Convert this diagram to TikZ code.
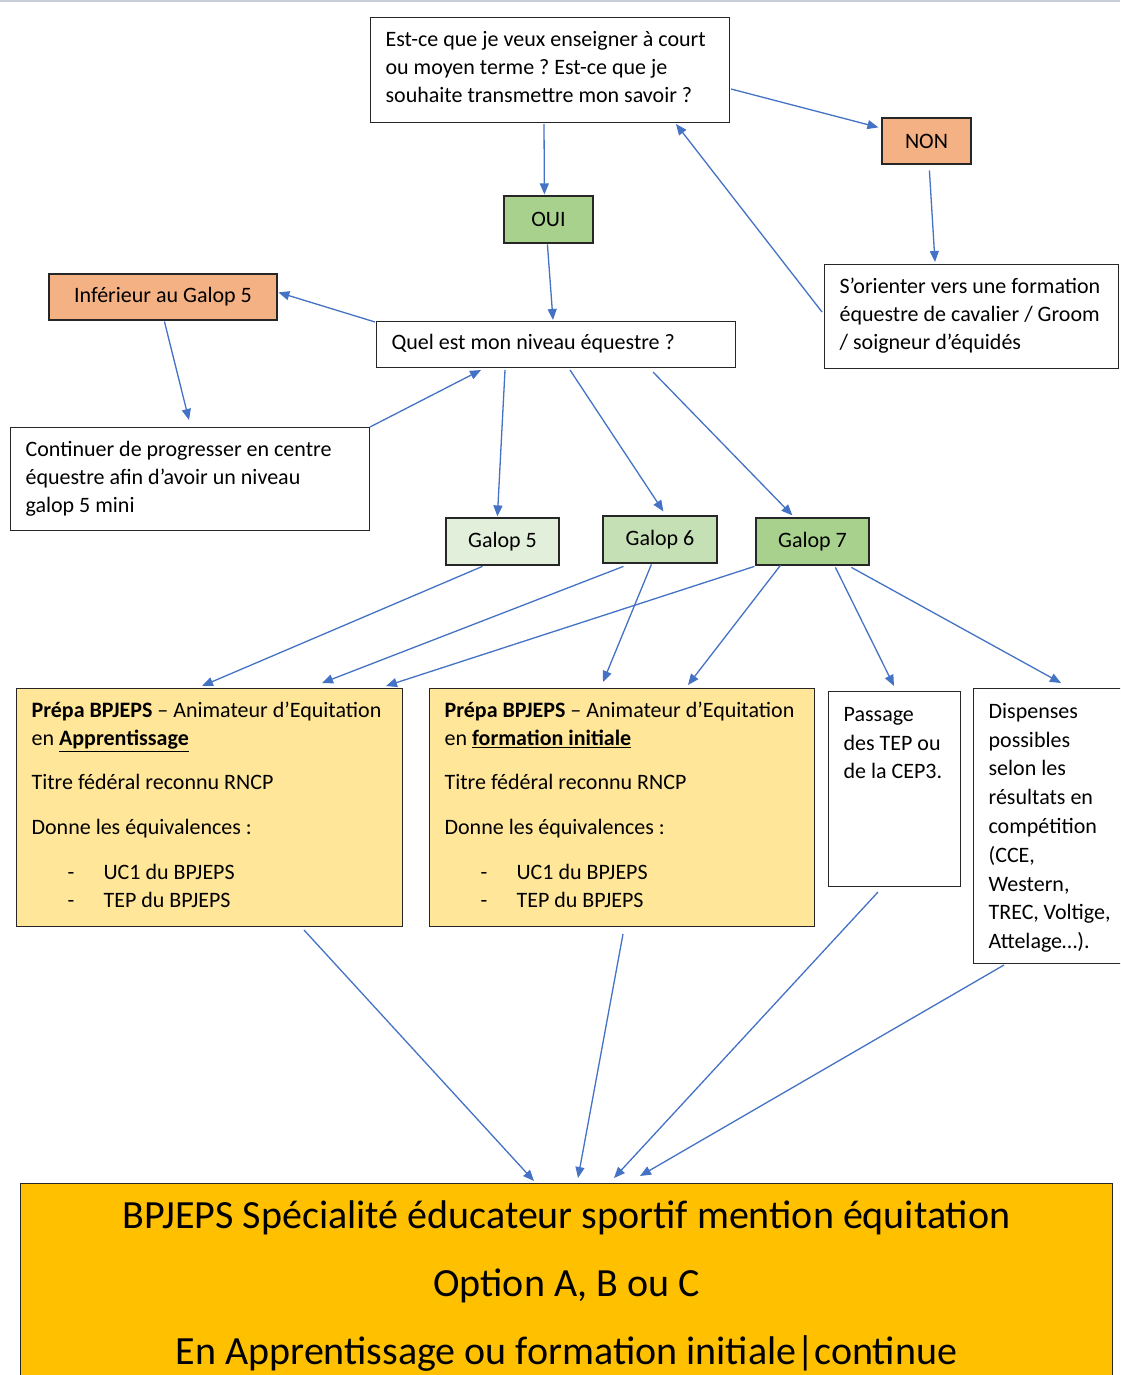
\documentclass[tikz,border=0pt]{standalone}
\usepackage{fontspec}
\setmainfont{Carlito}
\frenchspacing
\usetikzlibrary{arrows.meta,calc}
\definecolor{arr}{HTML}{4472C4}
\definecolor{orng}{HTML}{F4B183}
\definecolor{grA}{HTML}{A9D18E}
\definecolor{grB}{HTML}{C5E0B4}
\definecolor{grC}{HTML}{E2EFDA}
\definecolor{ylw}{HTML}{FFE699}
\definecolor{gold}{HTML}{FFC000}
\definecolor{topline}{HTML}{C9CDD8}
\newcommand\ptext[3]{\parbox[t][#2][t]{#1}{\raggedright\frenchspacing\strut #3}}
\newcommand\itm[1]{\hspace*{36pt}\makebox[36pt][l]{-}#1}
\tikzset{
  box/.style={draw=black!85, line width=1.2pt, anchor=north west, inner xsep=15pt, inner ysep=9.5pt, font=\fontsize{22}{28}\selectfont},
  cbox/.style={draw=black!85, line width=1.2pt, inner sep=0pt, font=\fontsize{22}{28}\selectfont},
  conn/.style={arr, line width=1.3pt, -{Triangle[length=11pt,width=9pt]}},
}
\begin{document}
\begin{tikzpicture}[x=1pt,y=-1pt]
\useasboundingbox (0,0) rectangle (1120,1375);
\clip (0,0) rectangle (1120,1375);
\fill[white] (0,0) rectangle (1120,1375);
\draw[topline, line width=2pt] (0,1) -- (1120,1);

% boxes
\node[box] (q1) at (370,17) {\ptext{329pt}{86pt}{Est-ce que je veux enseigner à court\\ou moyen terme ? Est-ce que je\\souhaite transmettre mon savoir ?}};
\node[cbox, fill=orng, minimum width=89pt, minimum height=46pt] (non) at (926.5,141) {NON};
\node[cbox, fill=grA, minimum width=89pt, minimum height=47pt] (oui) at (548.5,219.5) {OUI};
\node[box] (orient) at (824,264) {\ptext{264pt}{85pt}{S’orienter vers une formation\\équestre de cavalier / Groom\\/ soigneur d’équidés}};
\node[cbox, fill=orng, minimum width=228pt, minimum height=46pt] (inf) at (163,297) {Inférieur au Galop 5};
\node[box, inner ysep=8pt] (quel) at (376,321) {\ptext{329pt}{30pt}{Quel est mon niveau équestre ?}};
\node[box] (cont) at (10,427) {\ptext{329pt}{84pt}{Continuer de progresser en centre\\équestre afin d’avoir un niveau\\galop 5 mini}};
\node[cbox, fill=grC, minimum width=113pt, minimum height=47pt] (g5) at (502.5,541.5) {Galop 5};
\node[cbox, fill=grB, minimum width=114pt, minimum height=47pt] (g6) at (660,539.5) {Galop 6};
\node[cbox, fill=grA, minimum width=113pt, minimum height=47pt] (g7) at (812.5,541.5) {Galop 7};
\node[box, fill=ylw] (p1) at (16,688) {\ptext{356pt}{219pt}{\textbf{Prépa BPJEPS} – Animateur d’Equitation\\en \underline{\textbf{Apprentissage}}\\[16pt]Titre fédéral reconnu RNCP\\[17pt]Donne les équivalences :\\[17pt]\itm{UC1 du BPJEPS}\\\itm{TEP du BPJEPS}}};
\node[box, fill=ylw] (p2) at (429,688) {\ptext{355pt}{219pt}{\textbf{Prépa BPJEPS} – Animateur d’Equitation\\en \underline{\textbf{formation initiale}}\\[16pt]Titre fédéral reconnu RNCP\\[17pt]Donne les équivalences :\\[17pt]\itm{UC1 du BPJEPS}\\\itm{TEP du BPJEPS}}};
\node[box, font=\fontsize{22}{28.8}\selectfont] (pass) at (828,691) {\ptext{102pt}{176pt}{Passage\\des TEP ou\\de la CEP3.}};
\node[box, font=\fontsize{22}{28.8}\selectfont] (disp) at (973,688) {\ptext{122pt}{256pt}{Dispenses\\possibles\\selon les\\résultats en\\compétition\\(CCE,\\Western,\\TREC, Voltige,\\Attelage…).}};
\node[draw=black!85, line width=1.2pt, fill=gold, anchor=north west, inner sep=0pt, font=\fontsize{40}{68}\selectfont] (bp) at (20,1183) {\parbox[t][230pt][t]{1092pt}{\centering\rule{0pt}{45pt}BPJEPS Spécialité éducateur sportif mention équitation\\Option A, B ou C\\En Apprentissage ou formation initiale|continue}};

% connectors
\draw[conn] ([shift={(174,107)}]q1.north west) -- ([shift={(41,-1)}]oui.north west);
\draw[conn] ([shift={(361,72)}]q1.north west) -- ([shift={(-3,10)}]non.north west);
\draw[conn] ([shift={(48,53)}]non.north west) -- ([shift={(111,-2)}]orient.north west);
\draw[conn] ([shift={(-2,48)}]orient.north west) -- ([shift={(306,107)}]q1.north west);
\draw[conn] ([shift={(44,49)}]oui.north west) -- ([shift={(177,-1)}]quel.north west);
\draw[conn] ([shift={(-1,1)}]quel.north west) -- ([shift={(230,19)}]inf.north west);
\draw[conn] ([shift={(116,48)}]inf.north west) -- ([shift={(179,-7)}]cont.north west);
\draw[conn] ([shift={(360,0)}]cont.north west) -- ([shift={(105,49)}]quel.north west);
\draw[conn] ([shift={(129,49)}]quel.north west) -- ([shift={(52,-1)}]g5.north west);
\draw[conn] ([shift={(194,49)}]quel.north west) -- ([shift={(61,-4)}]g6.north west);
\draw[conn] ([shift={(277,51)}]quel.north west) -- ([shift={(37,-2)}]g7.north west);
\draw[conn] ([shift={(37,49)}]g5.north west) -- ([shift={(186,-2)}]p1.north west);
\draw[conn] ([shift={(21,51)}]g6.north west) -- ([shift={(306,-5)}]p1.north west);
\draw[conn] ([shift={(-1,49)}]g7.north west) -- ([shift={(370,-2)}]p1.north west);
\draw[conn] ([shift={(49,49)}]g6.north west) -- ([shift={(174,-6)}]p2.north west);
\draw[conn] ([shift={(25,48)}]g7.north west) -- ([shift={(259,-3)}]p2.north west);
\draw[conn] ([shift={(80,50)}]g7.north west) -- ([shift={(66,-5)}]pass.north west);
\draw[conn] ([shift={(96,50)}]g7.north west) -- ([shift={(88,-5)}]disp.north west);
\draw[conn] ([shift={(288,242)}]p1.north west) -- ([shift={(514,-2)}]bp.north west);
\draw[conn] ([shift={(194,246)}]p2.north west) -- ([shift={(558,-5)}]bp.north west);
\draw[conn] ([shift={(50,201)}]pass.north west) -- ([shift={(594,-5)}]bp.north west);
\draw[conn] ([shift={(31,277)}]disp.north west) -- ([shift={(620,-7)}]bp.north west);
\end{tikzpicture}
\end{document}
